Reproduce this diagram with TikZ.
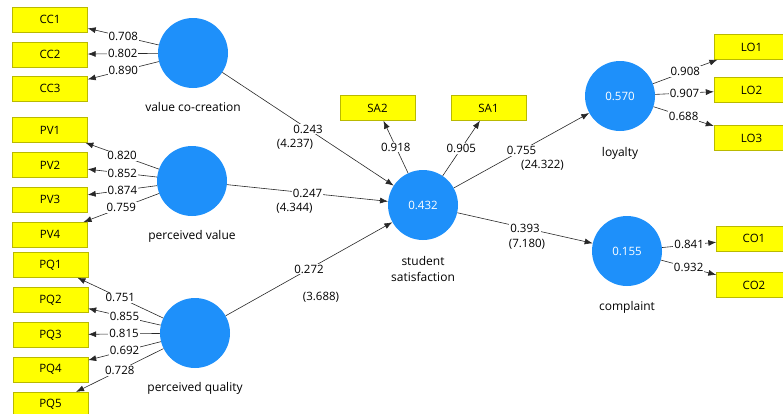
\documentclass[tikz,border=0pt]{standalone}
\usepackage{fontspec}
\setmainfont{Open Sans}
\usetikzlibrary{positioning,arrows.meta}
\definecolor{lvblue}{RGB}{30,144,250}
\definecolor{mvyellow}{RGB}{255,255,0}
\definecolor{mvborder}{RGB}{185,185,0}
\definecolor{linkgray}{RGB}{40,40,40}

\begin{document}
\begin{tikzpicture}[x=1pt, y=-1pt,
  lv/.style={circle, fill=lvblue, minimum size=70pt, inner sep=0pt, text=white, font=\fontsize{11.5}{14}\selectfont},
  mv/.style={draw=mvborder, fill=mvyellow, minimum width=75pt, minimum height=25pt, inner sep=0pt, font=\fontsize{11.5}{14}\selectfont},
  lvname/.style={inner sep=0pt, align=center, font=\fontsize{12}{16}\selectfont},
  link/.style={draw=linkgray, line width=0.6pt, -{Latex[length=8pt,width=6pt]}},
  coef/.style={fill=white, inner sep=1pt, font=\fontsize{11.5}{14}\selectfont},
  tval/.style={inner sep=0pt, font=\fontsize{11.5}{14}\selectfont}]
\useasboundingbox (0,0) rectangle (783,413);

% latent variables
\node[lv] (vcc) at (193,53) {};
\node[lv] (pv) at (192,181) {};
\node[lv] (pq) at (195,333) {};
\node[lv] (ss) at (423,205) {0.432};
\node[lv] (loy) at (620,96) {0.570};
\node[lv] (com) at (627,251) {0.155};

\node[lvname, below=14pt of vcc] (vcc-name) {value co-creation};
\node[lvname, below=14pt of pv] (pv-name) {perceived value};
\node[lvname, below=14pt of pq] (pq-name) {perceived quality};
\node[lvname, below=16pt of ss] (ss-name) {student\\satisfaction};
\node[lvname, below=16pt of loy] (loy-name) {loyalty};
\node[lvname, below=15pt of com] (com-name) {complaint};

% indicators
\node[mv] (cc1) at (50,19.5) {CC1};
\node[mv, below=9.5pt of cc1] (cc2) {CC2};
\node[mv, below=9pt of cc2] (cc3) {CC3};
\node[mv] (pv1) at (50,130) {PV1};
\node[mv, below=9.5pt of pv1] (pv2) {PV2};
\node[mv, below=9.5pt of pv2] (pv3) {PV3};
\node[mv, below=9.5pt of pv3] (pv4) {PV4};
\node[mv] (pq1) at (50.5,265) {PQ1};
\node[mv, below=9.5pt of pq1] (pq2) {PQ2};
\node[mv, below=9.5pt of pq2] (pq3) {PQ3};
\node[mv, below=9.5pt of pq3] (pq4) {PQ4};
\node[mv, below=9.5pt of pq4] (pq5) {PQ5};
\node[mv] (sa2) at (377.5,108) {SA2};
\node[mv] (sa1) at (488.5,108) {SA1};
\node[mv] (lo1) at (751.5,47) {LO1};
\node[mv] (lo2) at (751.5,90) {LO2};
\node[mv] (lo3) at (751.5,138) {LO3};
\node[mv] (co1) at (754,238.5) {CO1};
\node[mv] (co2) at (754,285) {CO2};

% outer loadings
\draw[link] (vcc) -- node[coef] {0.708} (cc1);
\draw[link] (vcc) -- node[coef] {0.802} (cc2);
\draw[link] (vcc) -- node[coef] {0.890} (cc3);
\draw[link] (pv) -- node[coef] {0.820} (pv1);
\draw[link] (pv) -- node[coef] {0.852} (pv2);
\draw[link] (pv) -- node[coef] {0.874} (pv3);
\draw[link] (pv) -- node[coef] {0.759} (pv4);
\draw[link] (pq) -- node[coef] {0.751} (pq1);
\draw[link] (pq) -- node[coef] {0.855} (pq2);
\draw[link] (pq) -- node[coef] {0.815} (pq3);
\draw[link] (pq) -- node[coef] {0.692} (pq4);
\draw[link] (pq) -- node[coef] {0.728} (pq5);
\draw[link] (ss) -- node[coef] {0.918} (sa2);
\draw[link] (ss) -- node[coef] {0.905} (sa1);
\draw[link] (loy) -- node[coef] {0.908} (lo1);
\draw[link] (loy) -- node[coef] {0.907} (lo2);
\draw[link] (loy) -- node[coef] {0.688} (lo3);
\draw[link] (com) -- node[coef] {0.841} (co1);
\draw[link] (com) -- node[coef] {0.932} (co2);

% path coefficients
\draw[link] (vcc) -- node[coef] (b1) {0.243} (ss);
\node[tval] (t1) at ([shift={(-13,15)}]b1) {(4.237)};
\draw[link] (pv) -- node[coef] (b2) {0.247} (ss);
\node[tval] (t2) at ([shift={(-13,15)}]b2) {(4.344)};
\draw[link] (pq) -- node[coef] (b3) {0.272} (ss);
\node[tval] (t3) at ([shift={(12,28)}]b3) {(3.688)};
\draw[link] (ss) -- node[coef] (b4) {0.755} (loy);
\node[tval] (t4) at ([shift={(21,15)}]b4) {(24.322)};
\draw[link] (ss) -- node[coef] (b5) {0.393} (com);
\node[tval] (t5) at ([shift={(2,16)}]b5) {(7.180)};
\end{tikzpicture}
\end{document}
